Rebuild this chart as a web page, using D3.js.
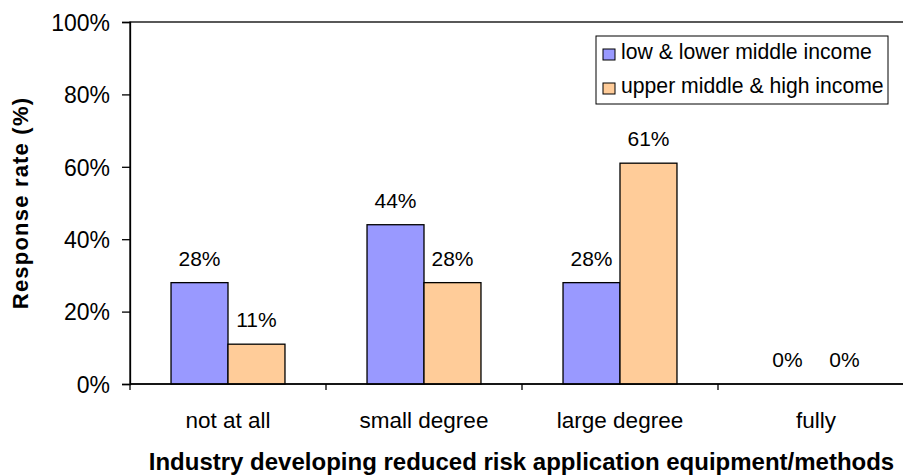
<!DOCTYPE html>
<html><head><meta charset="utf-8">
<script src="https://cdn.jsdelivr.net/npm/d3@7"></script>
<style>
html,body{margin:0;padding:0;background:#fff;}
svg{display:block;font-family:"Liberation Sans",Arial,sans-serif;}
</style></head>
<body><svg id="c" width="903" height="475"></svg>
<script>
const categories = ["not at all", "small degree", "large degree", "fully"];
const seriesNames = ["low & lower middle income", "upper middle & high income"];
const lowIncome = [0.28, 0.44, 0.28, 0.00];
const highIncome = [0.11, 0.28, 0.61, 0.00];
const yTicks = [0, 0.2, 0.4, 0.6, 0.8, 1.0];
const colors = ["#9999FF", "#FFCC99"];
const xTitle = "Industry developing reduced risk application equipment/methods";
const yTitle = "Response rate (%)";

const svg = d3.select("#c");
const L = 130, R = 914, T = 22, B = 384;

const x0 = d3.scaleBand().domain(categories).range([L, R]).paddingInner(0).paddingOuter(0);
const x1 = d3.scaleBand().domain(seriesNames).range([0, x0.bandwidth()]).paddingInner(0).paddingOuter(0.72);
const y = d3.scaleLinear().domain([0, 1]).range([B, T]);
const fmt = d3.format(".0%");

svg.append("rect").attr("x", L).attr("y", T).attr("width", R - L).attr("height", B - T)
  .attr("fill", "#fff").attr("stroke", "#000").attr("stroke-width", 1.3);

const data = categories.map((c, i) => ({cat: c, vals: [lowIncome[i], highIncome[i]]}));

const g = svg.selectAll("g.grp").data(data).enter().append("g")
  .attr("transform", d => `translate(${x0(d.cat)},0)`);
g.selectAll("rect").data(d => d.vals.map((v, j) => ({v, j})))
  .enter().append("rect")
  .attr("x", d => x1(seriesNames[d.j]))
  .attr("y", d => y(d.v))
  .attr("width", x1.bandwidth())
  .attr("height", d => B - y(d.v))
  .attr("fill", d => colors[d.j])
  .attr("stroke", d => d.v > 0 ? "#000" : "none")
  .attr("stroke-width", 1.3);
g.selectAll("text").data(d => d.vals.map((v, j) => ({v, j})))
  .enter().append("text")
  .attr("x", d => x1(seriesNames[d.j]) + x1.bandwidth() / 2)
  .attr("y", d => y(d.v) - 17)
  .attr("text-anchor", "middle")
  .attr("font-size", 21)
  .attr("fill", "#000")
  .text(d => fmt(d.v));

const yAxis = d3.axisLeft(y).tickValues(yTicks).tickFormat(fmt).tickSize(8).tickPadding(12);
const ya = svg.append("g").attr("transform", `translate(${L},0)`).call(yAxis);
ya.select(".domain").attr("stroke", "#000").attr("stroke-width", 1.3);
ya.selectAll(".tick line").attr("stroke", "#000").attr("stroke-width", 1.3);
ya.selectAll(".tick text").attr("font-size", 23).attr("font-family", "Liberation Sans, Arial, sans-serif")
  .attr("fill", "#000").attr("dy", "0.36em");

const xa = svg.append("g").attr("transform", `translate(0,${B})`);
xa.append("line").attr("x1", L).attr("x2", R).attr("y1", 0).attr("y2", 0)
  .attr("stroke", "#000").attr("stroke-width", 1.3);
xa.selectAll("line.tk").data(categories.concat(["__end"])).enter().append("line")
  .attr("x1", (d, i) => i < categories.length ? x0(d) : R)
  .attr("x2", (d, i) => i < categories.length ? x0(d) : R)
  .attr("y1", 0).attr("y2", 6).attr("stroke", "#000").attr("stroke-width", 1.3);
xa.selectAll("text").data(categories).enter().append("text")
  .attr("x", d => x0(d) + x0.bandwidth() / 2)
  .attr("y", 44)
  .attr("text-anchor", "middle")
  .attr("font-size", 22.5)
  .attr("fill", "#000")
  .text(d => d);

svg.append("text").attr("x", (150 + 893) / 2).attr("y", 470)
  .attr("text-anchor", "middle").attr("font-size", 24).attr("font-weight", "bold")
  .attr("fill", "#000").text(xTitle);
svg.append("text").attr("transform", "translate(28,203) rotate(-90)")
  .attr("text-anchor", "middle").attr("font-size", 22).attr("font-weight", "bold")
  .attr("letter-spacing", 1.2)
  .attr("fill", "#000").text(yTitle);

const lg = svg.append("g");
lg.append("rect").attr("x", 596).attr("y", 36).attr("width", 292).attr("height", 68)
  .attr("fill", "#fff").attr("stroke", "#000").attr("stroke-width", 1);
seriesNames.forEach((s, i) => {
  lg.append("rect").attr("x", 603).attr("y", 49 + i * 34).attr("width", 12).attr("height", 11)
    .attr("fill", colors[i]).attr("stroke", "#000").attr("stroke-width", 1);
  lg.append("text").attr("x", 621).attr("y", 59 + i * 34)
    .attr("font-size", 21.2).attr("fill", "#000").text(s);
});
</script></body></html>
